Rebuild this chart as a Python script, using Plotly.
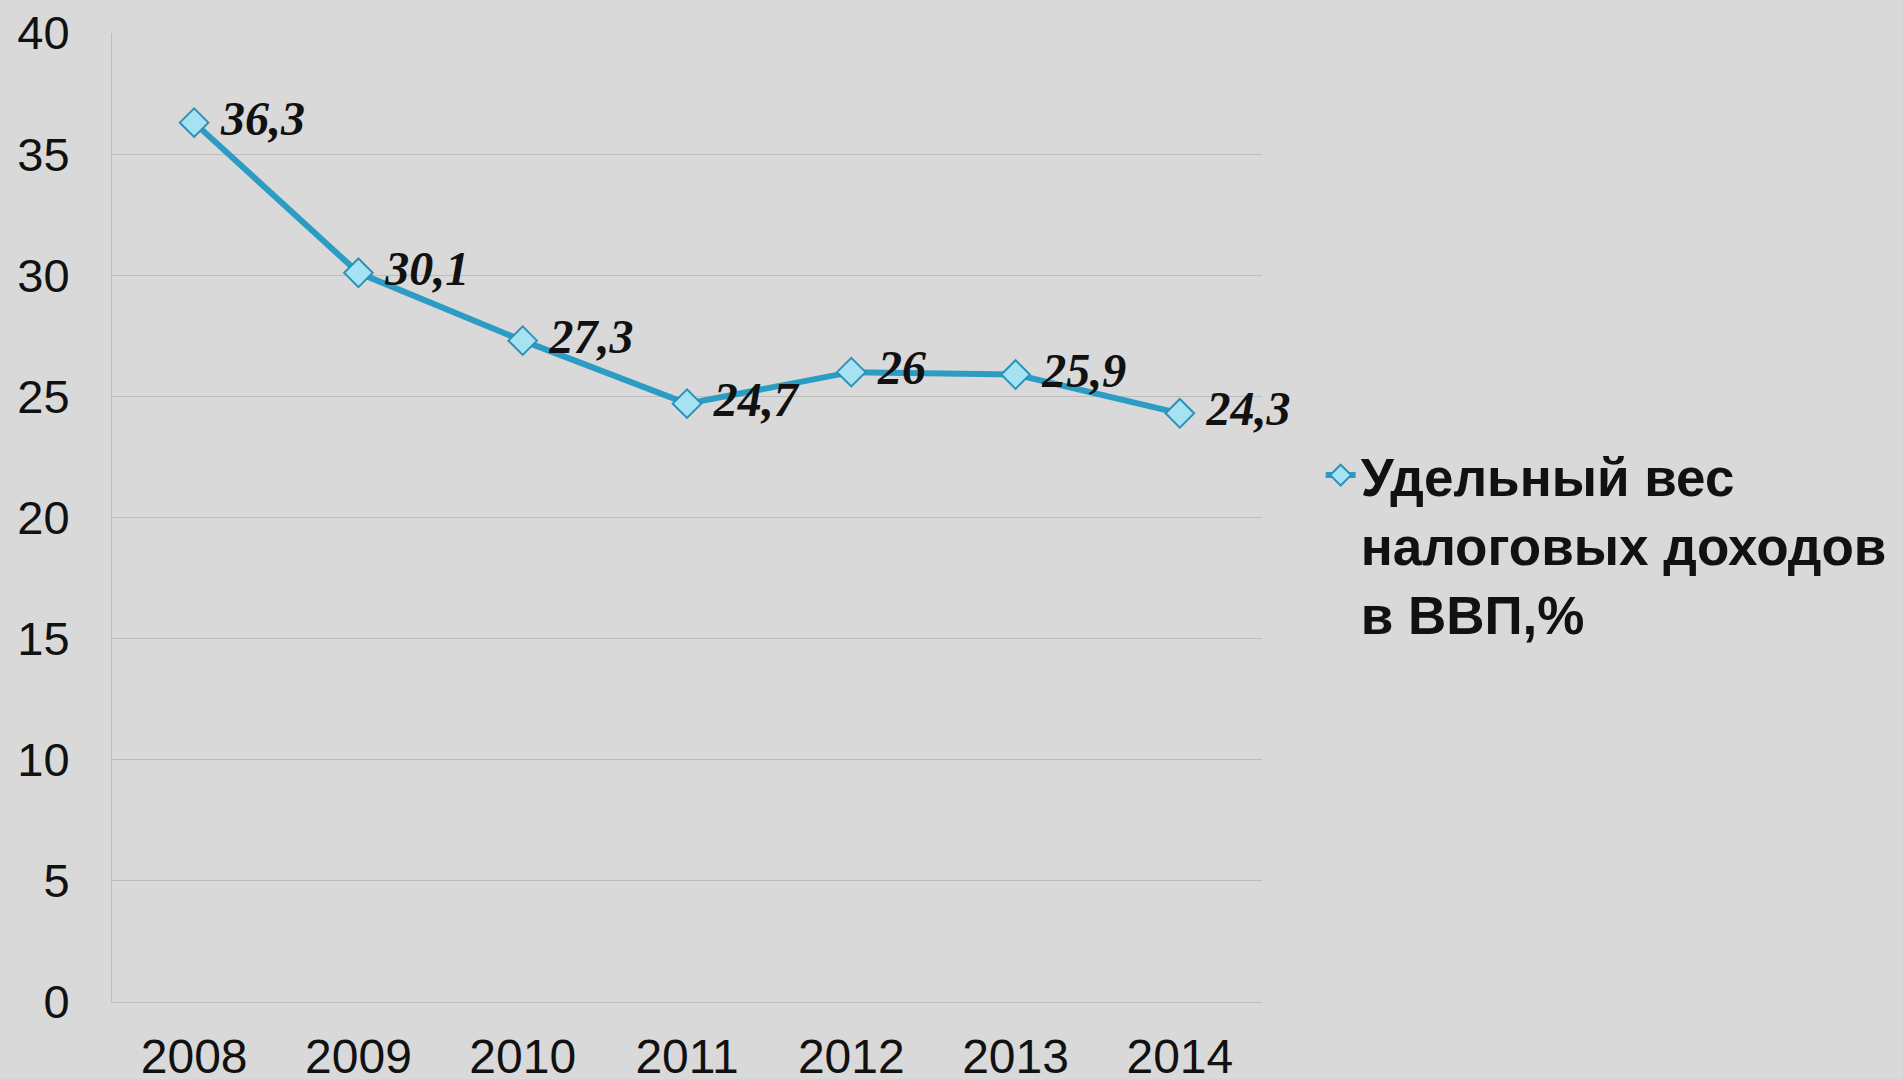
import plotly.graph_objects as go

years = ["2008", "2009", "2010", "2011", "2012", "2013", "2014"]
share = [36.3, 30.1, 27.3, 24.7, 26.0, 25.9, 24.3]
labels = ["36,3", "30,1", "27,3", "24,7", "26", "25,9", "24,3"]
series_name = "Удельный вес<br>налоговых доходов<br>в ВВП,%"

bg = "#d9d9d9"

fig = go.Figure(
    go.Scatter(
        x=years,
        y=share,
        mode="lines+markers+text",
        name=series_name,
        text=labels,
        texttemplate="\u00a0%{text}",
        textposition="middle right",
        cliponaxis=False,
        textfont=dict(family="Liberation Serif", size=48, color="#111111",
                      weight="bold", style="italic"),
        line=dict(color="#2b9dc4", width=6),
        marker=dict(symbol="diamond", size=22, color="#a6e2f2",
                    line=dict(color="#2a92b8", width=2)),
    )
)
fig.update_layout(
    width=1903,
    height=1079,
    paper_bgcolor=bg,
    plot_bgcolor=bg,
    margin=dict(l=112, r=641, t=33, b=77, autoexpand=False),
    font=dict(family="Liberation Sans", color="#111111"),
    showlegend=True,
    legend=dict(
        x=1.051,
        y=0.586,
        xanchor="left",
        yanchor="top",
        valign="top",
        bgcolor="rgba(0,0,0,0)",
        font=dict(family="Liberation Sans", size=53, color="#111111", weight="bold"),
    ),
)
fig.update_xaxes(
    type="category",
    range=[-0.5, 6.5],
    automargin=False,
    showgrid=False,
    showline=True,
    linecolor="#bdbdbd",
    linewidth=1,
    tickfont=dict(size=48),
    ticklabelstandoff=12,
    zeroline=False,
)
fig.update_yaxes(
    range=[0, 40],
    dtick=5,
    automargin=False,
    showgrid=True,
    gridcolor="#bdbdbd",
    gridwidth=1,
    showline=True,
    linecolor="#bdbdbd",
    linewidth=1,
    zeroline=False,
    tickfont=dict(size=47),
    ticklabelstandoff=32,
)
fig.write_html(
    "out.html",
    config={"displayModeBar": False},
    post_script="document.body.style.margin='0';document.body.style.overflow='hidden';",
)
